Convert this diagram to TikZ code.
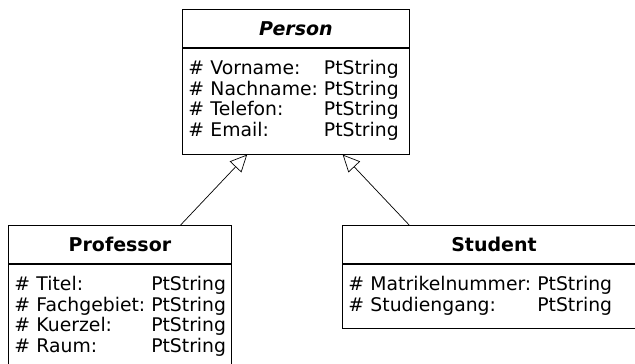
\documentclass[tikz,border=0pt]{standalone}
\usepackage{fontspec}
\setmainfont{DejaVu Sans}
\usetikzlibrary{arrows.meta, positioning, calc}

\begin{document}
\begin{tikzpicture}[
    x=1pt, y=-1pt,
    font=\fontsize{18.8}{20.7}\selectfont,
    classname/.style={draw, line width=0.9pt, minimum height=38pt, inner sep=0pt, font=\fontsize{19}{20.7}\selectfont\bfseries},
    attrbox/.style={draw, line width=0.9pt, inner xsep=6pt, inner ysep=11.5pt, align=left},
    inherit/.style={-{Triangle[open, length=17pt, width=16pt]}, line width=0.7pt},
]
\clip (0,0) rectangle (635,364);

% === CLASSES ===
\node[classname, minimum width=227pt, anchor=north west] (person) at (182,9) {\itshape Person};
\node[attrbox, text width=215pt, anchor=north] (personattr) at (person.south) {%
    \begin{tabular}{@{}l@{\hspace{6pt}}l@{}}
    \# Vorname:  & PtString\\
    \# Nachname: & PtString\\
    \# Telefon:  & PtString\\
    \# Email:    & PtString
    \end{tabular}};

\node[classname, minimum width=223pt, anchor=north west] (prof) at (8,225) {Professor};
\node[attrbox, text width=211pt, anchor=north] (profattr) at (prof.south) {%
    \begin{tabular}{@{}l@{\hspace{6pt}}l@{}}
    \# Titel:      & PtString\\
    \# Fachgebiet: & PtString\\
    \# Kuerzel:    & PtString\\
    \# Raum:       & PtString
    \end{tabular}};

\node[classname, minimum width=303pt, anchor=north west] (student) at (342,225) {Student};
\node[attrbox, text width=291pt, anchor=north] (studentattr) at (student.south) {%
    \begin{tabular}{@{}l@{\hspace{6pt}}l@{}}
    \# Matrikelnummer: & PtString\\
    \# Studiengang:    & PtString
    \end{tabular}};

% === GENERALISATION ===
\coordinate (profend) at ($(prof.north west)!0.771!(prof.north east)$);
\coordinate (studentend) at ($(student.north west)!0.221!(student.north east)$);
\coordinate (tipleft) at ($(personattr.south west)!0.286!(personattr.south east)$);
\coordinate (tipright) at ($(personattr.south west)!0.705!(personattr.south east)$);

\draw[inherit] (profend) -- (tipleft);
\draw[inherit] (studentend) -- (tipright);

\end{tikzpicture}
\end{document}
